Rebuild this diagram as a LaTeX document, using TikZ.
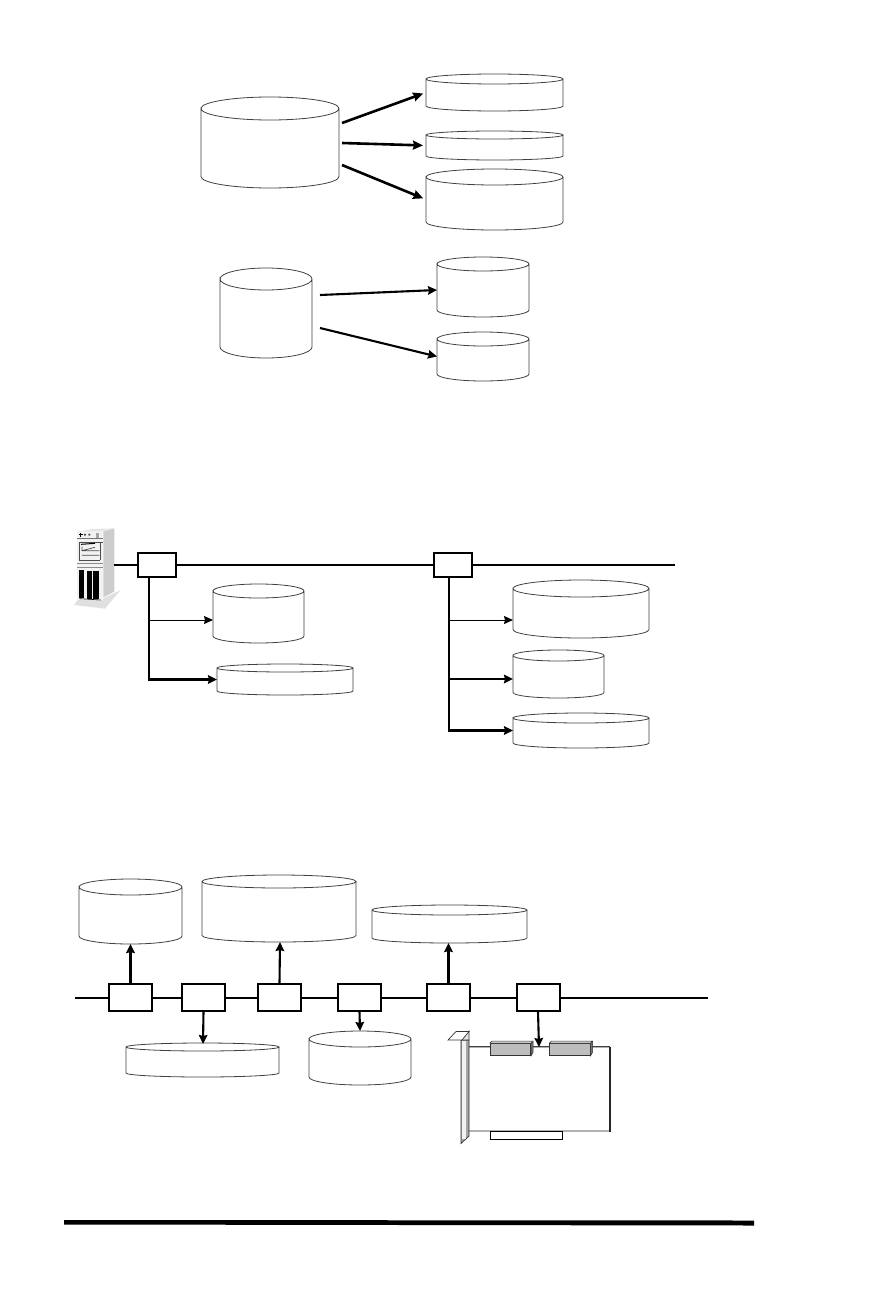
\documentclass[tikz,border=0pt]{standalone}
\usetikzlibrary{arrows.meta}
\tikzset{
  cylline/.style={draw=black!75,line width=0.8pt},
  busbox/.style={draw=black,fill=white,line width=1.1pt,inner sep=0pt,minimum width=43pt,minimum height=27pt},
  smallbox/.style={draw=black,fill=white,line width=1.1pt,inner sep=0pt,minimum width=38pt,minimum height=24pt},
  bus/.style={line width=2pt},
  bigarrow/.style={line width=2.6pt,-{Stealth[length=10pt,width=9pt,inset=1pt]}},
  medarrow/.style={line width=2.1pt,-{Stealth[length=9pt,width=8.5pt,inset=1pt]}},
  thinarrow/.style={line width=1pt,-{Stealth[length=9pt,width=8pt,inset=1pt]}},
  chip/.style={draw=black!80,fill=black!26,line width=0.7pt,inner sep=0pt,minimum height=12pt},
}
% name, x1, x2, ytop, ybottom, ellipse height
\newcommand{\cyl}[6]{%
  \pgfmathsetmacro{\cxm}{(#2+#3)/2}%
  \pgfmathsetmacro{\cym}{(#4+#5)/2}%
  \pgfmathsetmacro{\crx}{(#3-#2)/2}%
  \pgfmathsetmacro{\cry}{#6/2}%
  \pgfmathsetmacro{\cwd}{#3-#2}%
  \pgfmathsetmacro{\cht}{#5-#4}%
  \node[inner sep=0pt,outer sep=0pt,minimum width=\cwd pt,minimum height=\cht pt] (#1) at (\cxm,\cym) {};
  \draw[cylline] (#2,#4+\cry) arc[start angle=180,end angle=0,x radius=\crx pt,y radius=\cry pt]
     arc[start angle=0,end angle=-180,x radius=\crx pt,y radius=\cry pt]
     -- (#2,#5-\cry) arc[start angle=180,end angle=360,x radius=\crx pt,y radius=\cry pt] -- (#3,#4+\cry);
}
\begin{document}
\begin{tikzpicture}[x=1pt,y=-1pt]
\useasboundingbox (0,0) rectangle (877,1314);
% top group
\cyl{A}{201}{339}{97}{188}{23}
\cyl{B}{426}{563}{74}{111}{10}
\cyl{C}{426}{563}{131}{160}{8}
\cyl{D}{426}{563}{169}{230}{16}
\cyl{E}{220}{312}{268}{358}{22}
\cyl{F}{437}{529}{257}{317}{14}
\cyl{G}{437}{529}{332}{381}{14}
\coordinate (a1) at (342,123);
\coordinate (a2) at (342,143);
\coordinate (a3) at (342,165);
\coordinate (e1) at (320,295);
\coordinate (e2) at (320,328);
\draw[bigarrow,shorten >=3pt] (a1) -- (B.west);
\draw[bigarrow,shorten >=3pt] (a2) -- (C.west);
\draw[bigarrow,shorten >=3pt] (a3) -- (D.west);
\draw[medarrow] (e1) -- ([yshift=-3pt]F.west);
\draw[medarrow] (e2) -- (G.west);
% server
\begin{scope}[shift={(50,510)},x=0.3333pt,y=-0.3333pt]
  \fill[black!12] (150,270) -- (212,240) -- (165,296) -- (72,285) -- (85,268) -- cycle;
  \fill[black!20] (160,65) -- (193,55) -- (193,245) -- (160,262) -- cycle;
  \fill[black!10] (80,65) -- (130,57) -- (193,55) -- (160,65) -- cycle;
  \fill[black!5] (80,65) rectangle (160,270);
  \fill[black] (86,72) rectangle (98,76);\fill[black] (90,68) rectangle (94,80);
  \fill[black!80] (105,74) circle (3.5);
  \fill[black!60] (118,74) circle (4);
  \fill[black!35] (138,70) rectangle (147,85);
  \draw[black!55,line width=0.8pt] (80,84) -- (160,84);
  \draw[black!70,line width=0.8pt] (88,97) -- (158,97) (88,97) -- (88,150) -- (150,150) (150,97)--(150,150);
  \draw[black,line width=1pt] (93,103) -- (135,100);
  \draw[black!70,line width=0.7pt] (96,110) -- (96,122) -- (135,112) (96,122) -- (148,122) (96,136) -- (148,136);
  \draw[black!45,line width=0.7pt] (80,160) -- (160,160) (80,172) -- (160,172);
  \fill[black] (88,180) rectangle (103,264);
  \fill[black] (112,182) rectangle (127,266);
  \fill[black] (130,182) rectangle (146,268);
  \draw[black,line width=0.6pt] (88,266) -- (152,270);
\end{scope}
% middle bus
\node[smallbox] (s1) at (157,565) {};
\node[smallbox] (s2) at (453,565) {};
\coordinate (busL) at (114,565);
\coordinate (busR) at (675,565);
\draw[bus] (busL) -- (s1) (s1) -- (s2) (s2) -- (busR);
\cyl{H}{213}{304}{584}{643}{14}
\cyl{I}{217}{353}{664}{695}{8}
\cyl{J}{513}{649}{580}{638}{17}
\cyl{K}{513}{604}{650}{698}{11}
\cyl{L}{513}{649}{713}{748}{10}
\coordinate (s1a) at (149,577);
\coordinate (s2a) at (449,577);
\coordinate (j1) at (149,620);
\coordinate (j2) at (449,620);
\coordinate (j3) at (449,679);
\draw[thinarrow] (j1) -- (j1 -| H.west);
\draw[medarrow] (s1a) -- (s1a |- I.west) -- (I.west);
\draw[thinarrow] (j2) -- (j2 -| J.west);
\draw[medarrow] (j3) -- (j3 -| K.west);
\draw[medarrow] (s2a) -- (s2a |- L.west) -- (L.west);
% bottom bus
\node[busbox] (b1) at (130.5,997.5) {};
\node[busbox] (b2) at (203.5,997.5) {};
\node[busbox] (b3) at (279.5,997.5) {};
\node[busbox] (b4) at (359.5,997.5) {};
\node[busbox] (b5) at (448.5,997.5) {};
\node[busbox] (b6) at (538.5,997.5) {};
\coordinate (bL) at (75,997.5);
\coordinate (bR) at (708,997.5);
\draw[bus] (bL) -- (b1) (b1) -- (b2) (b2) -- (b3) (b3) -- (b4) (b4) -- (b5) (b5) -- (b6) (b6) -- (bR);
\cyl{M}{79}{182}{879}{944}{16}
\cyl{N}{202}{356}{875}{942}{13}
\cyl{O}{372}{527}{905}{943}{10}
\cyl{P}{126}{279}{1043}{1077}{8}
\cyl{Q}{309}{411}{1031}{1085}{16}
\draw[medarrow] (b1) -- (b1 |- M.south);
\draw[medarrow] (b3.north) -- (N.south -| 280,0);
\draw[medarrow] (b5) -- (b5 |- O.south);
\draw[medarrow] (b2.south) -- (203,1044);
\draw[medarrow] (b4.south) -- (360,1031);
% card
\draw[black!30,line width=1.2pt] (467,1047.5) -- (610,1047.5);
\draw[black!30,line width=1.2pt] (467,1048) -- (467,1131) -- (610,1131);
\draw[black!85,line width=1.1pt] (610,1047) -- (610,1131.5);
\draw[black!75,line width=0.7pt] (467,1046.5) -- (610,1046.5);
\draw[black,fill=white,line width=0.7pt] (490.5,1131.5) rectangle (562.5,1139.5);
\draw[black!80,fill=black!35,line width=0.7pt] (461,1040) -- (469,1040) -- (469,1136) -- (461,1143.5) -- cycle;
\fill[black!5] (462,1040.5) rectangle (465.5,1139);
\draw[black!80,fill=black!10,line width=0.7pt] (469,1031) -- (469,1040) -- (461,1040) -- cycle;
\draw[black!80,fill=white,line width=0.7pt] (448,1040) -- (456,1031.5) -- (469,1031.5) -- (462,1040) -- cycle;
\node[chip,minimum width=40.5pt] (c1) at (510.5,1049.5) {};
\node[chip,minimum width=40.5pt] (c2) at (570,1049.5) {};
\draw[black!80,fill=black!55,line width=0.5pt] (c1.north east) -- ++(2,-2) -- ++(0,11) -- (c1.south east) -- cycle;
\draw[black!80,fill=black!15,line width=0.5pt] (c1.north west) -- ++(2,-2) -- ++(40.5,0) -- (c1.north east) -- cycle;
\draw[black!80,fill=black!55,line width=0.5pt] (c2.north east) -- ++(2,-2) -- ++(0,11) -- (c2.south east) -- cycle;
\draw[black!80,fill=black!15,line width=0.5pt] (c2.north west) -- ++(2,-2) -- ++(40.5,0) -- (c2.north east) -- cycle;
\coordinate (cardin) at (539,1047);
\draw[medarrow] (b6.south -| 538,0) -- (cardin);
% footer rule
\fill[black] (64,1220) -- (754,1220.5) -- (754,1225.5) -- (64,1224.5) -- cycle;
\end{tikzpicture}
\end{document}
